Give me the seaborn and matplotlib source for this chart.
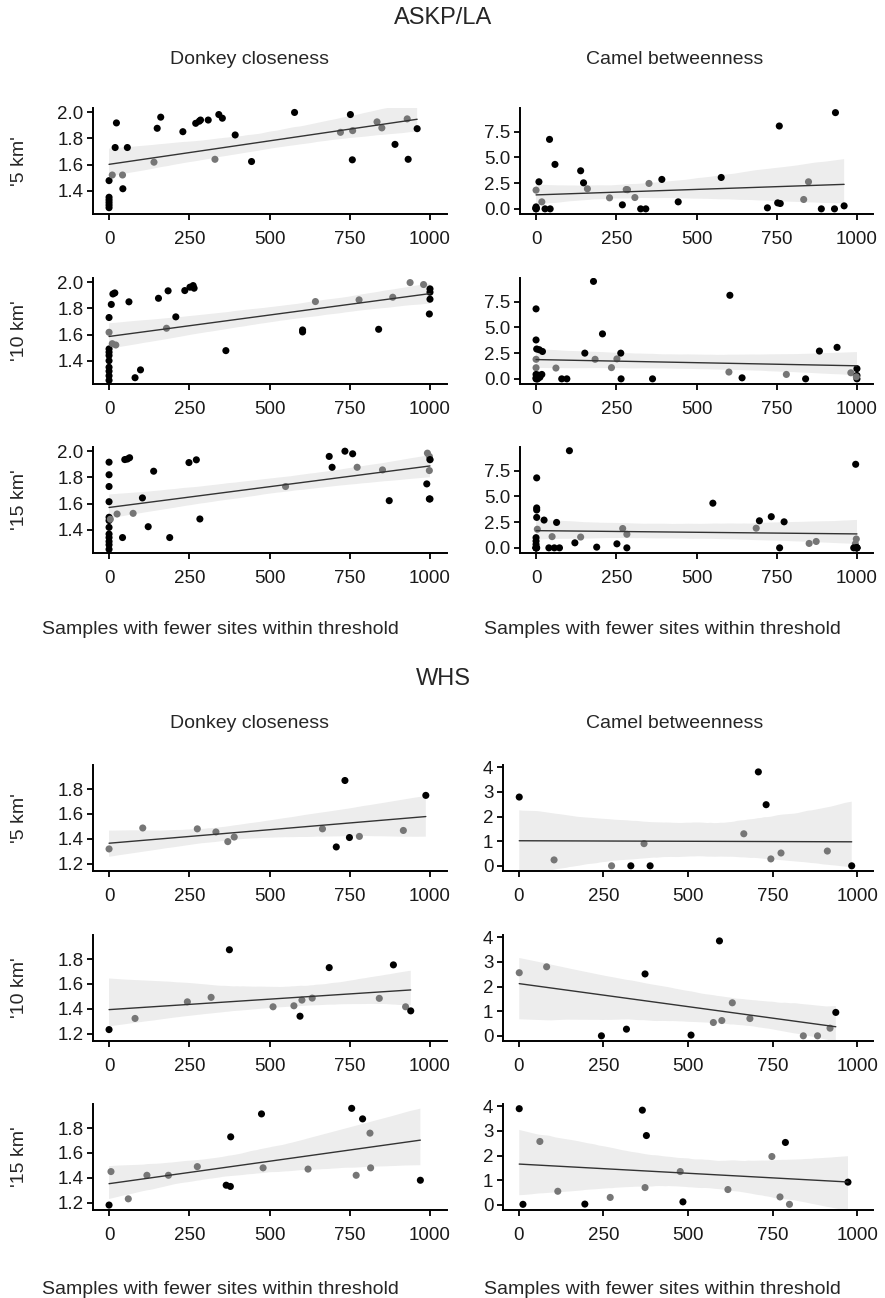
import matplotlib
matplotlib.use("Agg")
import matplotlib.pyplot as plt
import numpy as np
import pandas as pd
import seaborn as sns

# ---- ASKP/LA, donkey closeness ----
askp_don5_x = [0, 0, 0, 0, 0, 0, 10, 23, 19, 42, 43, 57, 140, 150, 161, 230, 270, 281, 285, 309,
               330, 342, 353, 393, 444, 578, 721, 752, 759, 758, 835, 850, 891, 929, 932, 960]
askp_don5_y = [1.477, 1.35, 1.33, 1.31, 1.29, 1.27, 1.52, 1.918, 1.73, 1.52, 1.415, 1.73, 1.618, 1.877,
               1.962, 1.851, 1.915, 1.931, 1.94, 1.94, 1.64, 1.982, 1.954, 1.826, 1.623, 1.998, 1.846,
               1.982, 1.859, 1.636, 1.926, 1.88, 1.754, 1.949, 1.64, 1.874]
askp_don5_g = [0, 0, 0, 0, 0, 0, 1, 0, 0, 1, 0, 0, 1, 0, 0, 0, 0, 0, 0, 0,
               1, 0, 0, 0, 0, 0, 1, 0, 1, 0, 1, 1, 0, 1, 0, 0]

askp_don10_x = [0, 0, 0, 0, 0, 0, 0, 0, 0, 0, 7, 18, 12, 10, 21,
                62, 81, 98, 154, 179, 184, 208, 236, 252, 262, 265, 364, 603, 603, 643, 779, 840,
                884, 938, 980, 1000, 1000, 1000, 998]
askp_don10_y = [1.73, 1.617, 1.49, 1.465, 1.44, 1.40, 1.35, 1.32, 1.285, 1.25, 1.83, 1.918, 1.91, 1.53, 1.52,
                1.85, 1.27, 1.33, 1.877, 1.648, 1.934, 1.735, 1.936, 1.962, 1.974, 1.954, 1.477, 1.635,
                1.62, 1.852, 1.865, 1.64, 1.885, 1.997, 1.982, 1.949, 1.923, 1.87, 1.757]
askp_don10_g = [0, 1, 0, 0, 0, 0, 0, 0, 0, 0, 0, 0, 0, 1, 1,
                0, 0, 0, 0, 1, 0, 0, 0, 0, 0, 0, 0, 0, 0, 1, 1, 0, 1, 1, 1, 0, 0, 0, 0]

askp_don15_x = [0, 0, 0, 0, 0, 0, 0, 0, 0, 0, 0, 0, 4,
                25, 42, 49, 57, 64, 75, 104, 122, 139, 189, 249, 272, 283, 550, 686, 695, 735, 759,
                773, 852, 873, 992, 998, 1000, 998, 1000, 990, 998, 1000]
askp_don15_y = [1.916, 1.82, 1.73, 1.614, 1.495, 1.47, 1.418, 1.367, 1.34, 1.31, 1.285, 1.25, 1.48,
                1.52, 1.34, 1.936, 1.94, 1.95, 1.525, 1.643, 1.423, 1.847, 1.34, 1.913, 1.934, 1.482,
                1.73, 1.96, 1.877, 2.0, 1.98, 1.877, 1.857, 1.622, 1.985, 1.96, 1.934, 1.852, 1.936,
                1.75, 1.635, 1.635]
askp_don15_g = [0, 0, 0, 0, 0, 0, 0, 0, 0, 0, 0, 0, 1,
                1, 0, 0, 0, 0, 1, 0, 0, 0, 0, 0, 0, 0, 1, 0, 0, 0, 0, 1, 1, 0, 1, 1, 1, 1, 0, 0, 0, 0]

# ---- ASKP/LA, camel betweenness (same sites; overlapping points near 0 included) ----
askp_cam5_x = [0, 0, 0, 9, 18, 28, 42, 44, 59, 139, 148, 160, 229, 269, 281, 308, 326, 342, 352, 392,
               443, 577, 721, 758, 753, 761, 834, 849, 889, 930, 933, 960, 0, 0, 0, 285]
askp_cam5_y = [1.82, 0.19, 0.0, 2.63, 0.68, 0.0, 6.75, 0.0, 4.32, 3.7, 2.53, 1.95, 1.07, 0.39, 1.88,
               1.1, 0.0, 0.0, 2.47, 2.86, 0.68, 3.05, 0.1, 8.05, 0.58, 0.52, 0.91, 2.63, 0.0, 0.0, 9.35,
               0.29, 0.0, 0.05, 0.1, 1.86]
askp_cam5_g = [1, 0, 0, 0, 1, 0, 0, 0, 0, 0, 0, 1, 1, 0, 1, 1, 0, 0, 1, 0,
               0, 0, 0, 0, 0, 0, 1, 1, 0, 0, 0, 0, 0, 0, 0, 1]

askp_cam10_x = [0, 0, 2, 10, 20, 0, 0, 0, 7, 12, 18, 0,
                62, 80, 96, 152, 179, 184, 207, 235, 252, 264, 265, 363, 604, 601, 642, 780, 840,
                883, 938, 981, 1000, 1000, 1000, 998, 0, 3, 5]
askp_cam10_y = [6.8, 3.78, 2.9, 2.83, 2.66, 1.9, 1.08, 0.43, 0.36, 0.16, 0.43, 0.1,
                1.05, 0, 0, 2.5, 9.47, 1.9, 4.37, 1.09, 1.94, 2.5, 0, 0, 8.12, 0.66, 0.1, 0.43, 0,
                2.7, 3.06, 0.59, 0.99, 0.33, 0, 0.2, 0, 0, 0]
askp_cam10_g = [0, 0, 0, 0, 0, 1, 1, 0, 0, 0, 0, 0,
                1, 0, 0, 0, 0, 1, 0, 1, 1, 0, 0, 0, 0, 1, 0, 1, 0, 0, 0, 1, 0, 0, 0, 1, 0, 0, 0]

askp_cam15_x = [104, 2, 2, 2, 2, 25, 4, 0, 0, 0, 2, 50, 40, 64, 73, 121, 139, 189, 252, 270, 283, 283,
                551, 686, 696, 733, 759, 773, 851, 873, 996, 998, 995, 990, 1000,
                0, 0, 0, 0, 57, 1000, 1000, 998]
askp_cam15_y = [9.44, 6.8, 3.88, 3.68, 2.96, 2.7, 1.81, 0.99, 0.66, 0.33, 0, 1.09, 0, 2.47, 0, 0.49,
                1.05, 0.07, 0.39, 1.88, 1.32, 0, 4.34, 1.91, 2.63, 3.03, 0, 2.53, 0.43, 0.62, 8.12,
                0.86, 0.39, 0, 0, 0, 0, 0, 0, 0, 0, 0, 0]
askp_cam15_g = [0, 0, 0, 0, 0, 0, 1, 0, 0, 0, 0, 1, 0, 0, 0, 0, 1, 0, 0, 1, 1, 0,
                0, 1, 0, 0, 0, 0, 1, 1, 0, 1, 1, 0, 0, 0, 0, 0, 0, 0, 0, 0, 0]

# ---- WHS, donkey closeness ----
whs_don5_x = [0, 105, 275, 333, 370, 390, 665, 708, 735, 749, 780, 917, 987]
whs_don5_y = [1.318, 1.487, 1.48, 1.455, 1.377, 1.414, 1.48, 1.334, 1.87, 1.41, 1.419, 1.467, 1.75]
whs_don5_g = [1, 1, 1, 1, 1, 1, 1, 0, 0, 0, 1, 1, 0]

whs_don10_x = [0, 81, 244, 318, 375, 511, 576, 595, 601, 633, 686, 842, 886, 924, 940]
whs_don10_y = [1.232, 1.322, 1.456, 1.492, 1.876, 1.416, 1.424, 1.34, 1.47, 1.486, 1.732, 1.484,
               1.754, 1.416, 1.383]
whs_don10_g = [0, 1, 1, 1, 0, 1, 1, 0, 1, 1, 0, 1, 0, 1, 0]

whs_don15_x = [6, 0, 60, 118, 185, 275, 365, 378, 379, 475, 480, 620, 756, 770, 790, 813, 815, 970]
whs_don15_y = [1.45, 1.18, 1.23, 1.42, 1.42, 1.49, 1.34, 1.33, 1.73, 1.915, 1.48, 1.47, 1.96, 1.42,
               1.875, 1.76, 1.48, 1.38]
whs_don15_g = [1, 0, 1, 1, 1, 1, 0, 0, 0, 0, 1, 1, 0, 1, 0, 1, 1, 0]

# ---- WHS, camel betweenness ----
whs_cam5_x = [1, 104, 274, 331, 370, 388, 665, 708, 731, 745, 775, 912, 984]
whs_cam5_y = [2.79, 0.24, 0, 0, 0.9, 0, 1.3, 3.81, 2.48, 0.28, 0.52, 0.6, 0]
whs_cam5_g = [0, 1, 1, 0, 1, 0, 1, 0, 0, 1, 1, 1, 0]

whs_cam10_x = [1, 82, 244, 318, 373, 509, 575, 593, 600, 631, 683, 841, 883, 920, 937]
whs_cam10_y = [2.56, 2.8, 0, 0.27, 2.51, 0.03, 0.54, 3.85, 0.62, 1.34, 0.7, 0, 0, 0.31, 0.95]
whs_cam10_g = [1, 1, 0, 0, 0, 0, 1, 0, 1, 1, 1, 1, 1, 1, 0]

whs_cam15_x = [1, 12, 62, 115, 195, 270, 365, 373, 377, 477, 485, 618, 748, 772, 788, 800, 973]
whs_cam15_y = [3.9, 0.02, 2.57, 0.55, 0.03, 0.3, 3.84, 0.7, 2.81, 1.35, 0.12, 0.62, 1.96, 0.32,
               2.53, 0.02, 0.92]
whs_cam15_g = [0, 0, 1, 1, 0, 1, 0, 1, 0, 1, 0, 1, 1, 1, 0, 1, 0]

row_labels = ["'5 km'", "'10 km'", "'15 km'"]
col_titles = ["Donkey closeness", "Camel betweenness"]
x_ticks = [0, 250, 500, 750, 1000]
don_askp_ticks = [1.4, 1.6, 1.8, 2.0]
cam_askp_ticks = [0.0, 2.5, 5.0, 7.5]
don_whs_ticks = [1.2, 1.4, 1.6, 1.8]
cam_whs_ticks = [0, 1, 2, 3, 4]

W, H = 885, 1298
sns.set_style("ticks")
plt.rcParams['font.family'] = ['Liberation Sans', 'DejaVu Sans']

fig = plt.figure(figsize=(W / 100, H / 100), dpi=100)
fig.patch.set_facecolor("white")


def px_axes(left, top, width, height):
    return fig.add_axes([left / W, 1 - (top + height) / H, width / W, height / H])


def panel(ax, xs, ys, gs, xlim, ylim, yticks, yfmt):
    df = pd.DataFrame({"x": xs, "y": ys, "grp": gs})
    sns.regplot(data=df, x="x", y="y", ax=ax, scatter=False, ci=95, seed=3,
                color="#333333", line_kws={"lw": 1.0, "zorder": 3})
    band = ax.collections[-1]
    band.set_facecolor("#ededed")
    band.set_alpha(1)
    band.set_edgecolor("none")
    band.set_zorder(1)
    sns.scatterplot(data=df, x="x", y="y", hue="grp", palette={0: "#000000", 1: "#767676"},
                    s=26, edgecolor="none", linewidth=0, legend=False, ax=ax, zorder=2)
    ax.set_xlim(*xlim)
    ax.set_ylim(*ylim)
    ax.set_xticks(x_ticks)
    ax.set_xticklabels([str(t) for t in x_ticks])
    ax.set_yticks(yticks)
    ax.set_yticklabels([yfmt.format(t) for t in yticks])
    ax.set_xlabel("")
    ax.set_ylabel("")
    for s in ["top", "right"]:
        ax.spines[s].set_visible(False)
    for s in ["left", "bottom"]:
        ax.spines[s].set_linewidth(1.4)
        ax.spines[s].set_color("black")
    ax.tick_params(axis="both", direction="out", length=4, width=1.3, color="black",
                   labelsize=13.5, labelcolor="#1a1a1a")
    ax.tick_params(axis="x", pad=8.5)
    ax.tick_params(axis="y", pad=3)
    ax.set_facecolor("white")


askp_rows = [108, 278, 447]
whs_rows = [765, 935, 1104]
ph = 106

askp_don = [(askp_don5_x, askp_don5_y, askp_don5_g),
            (askp_don10_x, askp_don10_y, askp_don10_g),
            (askp_don15_x, askp_don15_y, askp_don15_g)]
askp_cam = [(askp_cam5_x, askp_cam5_y, askp_cam5_g),
            (askp_cam10_x, askp_cam10_y, askp_cam10_g),
            (askp_cam15_x, askp_cam15_y, askp_cam15_g)]
whs_don = [(whs_don5_x, whs_don5_y, whs_don5_g),
           (whs_don10_x, whs_don10_y, whs_don10_g),
           (whs_don15_x, whs_don15_y, whs_don15_g)]
whs_cam = [(whs_cam5_x, whs_cam5_y, whs_cam5_g),
           (whs_cam10_x, whs_cam10_y, whs_cam10_g),
           (whs_cam15_x, whs_cam15_y, whs_cam15_g)]

for i, top in enumerate(askp_rows):
    ax = px_axes(93, top, 354, ph)
    panel(ax, *askp_don[i], (-50, 1053), (1.222, 2.032), don_askp_ticks, "{:.1f}")
    ax = px_axes(520, top, 353, ph)
    panel(ax, *askp_cam[i], (-50, 1050), (-0.5, 9.8), cam_askp_ticks, "{:.1f}")
    fig.text(20 / W, 1 - (top + ph / 2) / H, row_labels[i], rotation=90,
             ha="center", va="center", fontsize=14)

for i, top in enumerate(whs_rows):
    ax = px_axes(93, top, 354, ph)
    panel(ax, *whs_don[i], (-50, 1053), (1.14, 1.995), don_whs_ticks, "{:.1f}")
    ax = px_axes(503, top, 370, ph)
    panel(ax, *whs_cam[i], (-47, 1047), (-0.21, 4.09), cam_whs_ticks, "{:d}")
    fig.text(20 / W, 1 - (top + ph / 2) / H, row_labels[i], rotation=90,
             ha="center", va="center", fontsize=14)

# section and column titles
fig.text(443 / W, 1 - 18 / H, "ASKP/LA", ha="center", va="center", fontsize=17)
fig.text(443 / W, 1 - 679 / H, "WHS", ha="center", va="center", fontsize=17)
for ty in [60, 723]:
    fig.text(249 / W, 1 - ty / H, col_titles[0], ha="center", va="center", fontsize=14)
    fig.text(675 / W, 1 - ty / H, col_titles[1], ha="center", va="center", fontsize=14)
for ty in [630, 1290]:
    fig.text(220 / W, 1 - ty / H, "Samples with fewer sites within threshold",
             ha="center", va="center", fontsize=14)
    fig.text(662 / W, 1 - ty / H, "Samples with fewer sites within threshold",
             ha="center", va="center", fontsize=14)

fig.savefig("out.png", dpi=100, facecolor="white")
